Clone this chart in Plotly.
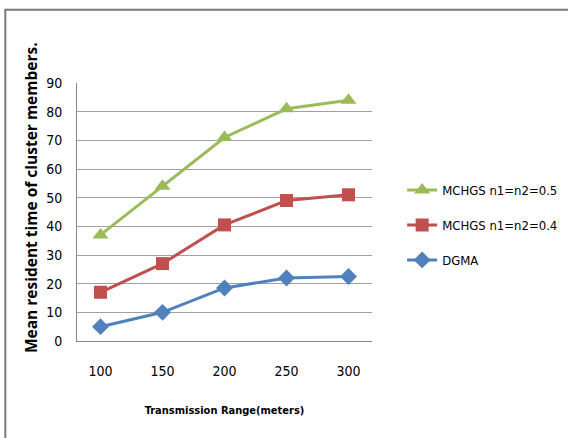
import plotly.graph_objects as go

ranges = ["100", "150", "200", "250", "300"]
mchgs_05 = [37, 54, 71, 81, 84]
mchgs_04 = [17, 27, 40.5, 49, 51]
dgma = [5, 10, 18.5, 22, 22.5]
y_ticks = [0, 10, 20, 30, 40, 50, 60, 70, 80, 90]

FONT = "DejaVu Sans Condensed, Liberation Sans Narrow, Liberation Sans, sans-serif"

series = [
    ("MCHGS n1=n2=0.5", mchgs_05, "#9BBB59", "triangle-up", 14),
    ("MCHGS n1=n2=0.4", mchgs_04, "#C0504D", "square", 13),
    ("DGMA", dgma, "#4F81BD", "diamond", 13),
]

fig = go.Figure()
for name, vals, color, symbol, msize in series:
    fig.add_trace(go.Scatter(
        x=ranges, y=vals, name=name, mode="lines+markers",
        line=dict(color=color, width=3),
        marker=dict(symbol=symbol, size=msize, color=color),
        legendgroup=name,
    ))

fig.update_layout(
    width=568, height=438,
    margin=dict(l=77, r=196, t=83, b=97, autoexpand=False),
    paper_bgcolor="white", plot_bgcolor="white",
    font=dict(family=FONT, size=14, color="#000000"),
    showlegend=True,
    legend=dict(
        xref="container", yref="container",
        x=0.708, y=0.486, xanchor="left", yanchor="middle",
        font=dict(family=FONT, size=13, color="#000000"),
        tracegroupgap=15, itemwidth=30, bgcolor="rgba(0,0,0,0)",
    ),
    xaxis=dict(
        type="category", categoryorder="array", categoryarray=ranges,
        showgrid=False, showline=True, linecolor="#868686", linewidth=1,
        ticks="", tickfont=dict(family=FONT, size=14),
        ticklabelstandoff=17,
        title=dict(text="<b>Transmission Range(meters)</b>",
                   font=dict(family=FONT, size=11), standoff=28),
    ),
    yaxis=dict(
        range=[0, 90], tickvals=y_ticks, showgrid=True,
        gridcolor="#A0A0A0", gridwidth=1,
        showline=True, linecolor="#868686", linewidth=1,
        zeroline=False, ticks="", tickfont=dict(family=FONT, size=14),
        ticklabelstandoff=11,
    ),
)

# y-axis title, set slightly above the plot's vertical centre
fig.add_annotation(
    text="<b>Mean resident time of cluster members.</b>",
    xref="paper", yref="paper", x=-0.156, y=0.558,
    xanchor="center", yanchor="middle", textangle=-90, showarrow=False,
    font=dict(family="Open Sans, DejaVu Sans, sans-serif", size=15.5, color="#000000"),
)

# outer chart frame; its right and bottom edges run off the page
fig.add_shape(type="rect", xref="paper", yref="paper",
              x0=-0.243, x1=1.8, y0=-0.5, y1=1.284,
              line=dict(color="#7A7A7A", width=2), fillcolor="rgba(0,0,0,0)",
              layer="above")

fig.write_html("out.html")
